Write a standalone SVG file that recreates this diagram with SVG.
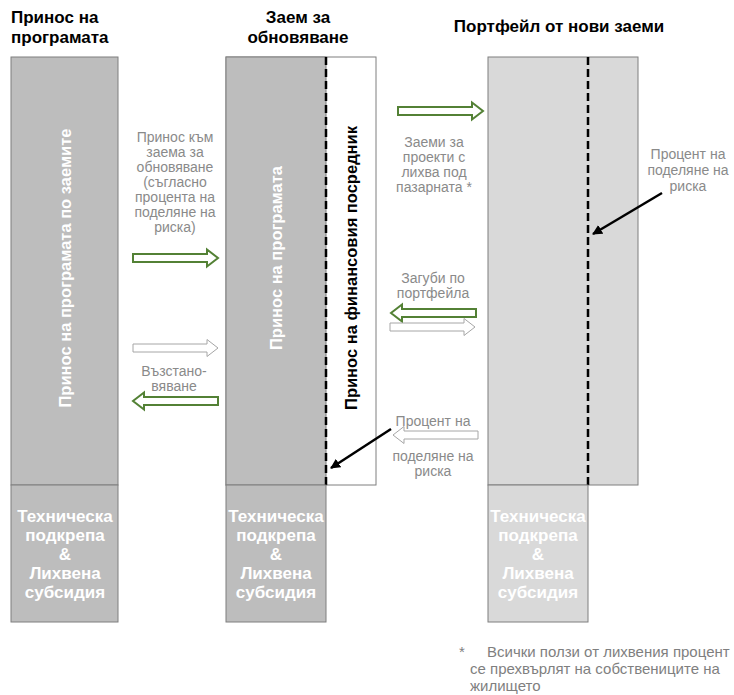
<svg xmlns="http://www.w3.org/2000/svg" xmlns:xlink="http://www.w3.org/1999/xlink" width="734" height="695" viewBox="0 0 734 695">
<style>
.hdr{font-family:"Liberation Sans",Arial,sans-serif;font-weight:bold;font-size:17px;fill:#000}
.lbl{font-family:"Liberation Sans",Arial,sans-serif;font-size:14px;fill:#8a8a8a;text-anchor:middle}
.vt{font-family:"Liberation Sans",Arial,sans-serif;font-weight:bold;font-size:16.5px;text-anchor:middle}
.bt{font-family:"Liberation Sans",Arial,sans-serif;font-weight:bold;font-size:17px;fill:#fff;text-anchor:middle}
.fn{font-family:"Liberation Sans",Arial,sans-serif;font-size:15px;fill:#7f7f7f}
.dark{fill:#bdbdbd;stroke:#7f7f7f;stroke-width:1}
.light{fill:#d9d9d9;stroke:#7f7f7f;stroke-width:1}
.wbox{fill:#fff;stroke:#7f7f7f;stroke-width:1}
.dash{stroke:#000;stroke-width:2.5;stroke-dasharray:8 4;fill:none}
.ga{fill:#fff;stroke:#538135;stroke-width:2}
.gr{fill:#fff;stroke:#a6a6a6;stroke-width:1}
.bl{stroke:#000;stroke-width:2.5;fill:none}
</style>
<defs>
<path id="ar" d="M0,-4 H74 V-8.5 L85,0 L74,8.5 V4 H0 Z"/>
<marker id="ah" viewBox="0 0 10 10" refX="9" refY="5" markerWidth="4" markerHeight="4" orient="auto" markerUnits="strokeWidth">
<path d="M0,0 L10,5 L0,10 Z" fill="#000"/>
</marker>
</defs>

<g id="headers">
<text class="hdr" x="11" y="23">Принос на</text>
<text class="hdr" x="11" y="43">програмата</text>
<text class="hdr" x="298" y="23" text-anchor="middle">Заем за</text>
<text class="hdr" x="298" y="43" text-anchor="middle">обновяване</text>
<text class="hdr" x="559" y="32" text-anchor="middle">Портфейл от нови заеми</text>
</g>

<g id="col-program">
<rect class="dark" x="11" y="57" width="107" height="428"/>
<text class="vt" fill="#fff" transform="translate(71,268) rotate(-90)">Принос на програмата по заемите</text>
</g>
<g id="col-program-bottom">
<rect class="dark" x="11" y="485" width="107" height="137"/>
<text class="bt" x="65" y="522">Техническа</text>
<text class="bt" x="65" y="541">подкрепа</text>
<text class="bt" x="65" y="560">&amp;</text>
<text class="bt" x="65" y="579">Лихвена</text>
<text class="bt" x="65" y="598">субсидия</text>
</g>

<g id="col-loan">
<rect class="wbox" x="226" y="57" width="150" height="428"/>
<rect class="dark" x="226" y="57" width="100" height="428"/>
<line class="dash" x1="326" y1="57" x2="326" y2="485"/>
<text class="vt" fill="#fff" transform="translate(282,258) rotate(-90)">Принос на програмата</text>
<text class="vt" fill="#000" transform="translate(357,268) rotate(-90)">Принос на финансовия посредник</text>
</g>
<g id="col-loan-bottom">
<rect class="dark" x="226" y="485" width="100" height="137"/>
<text class="bt" x="276" y="522">Техническа</text>
<text class="bt" x="276" y="541">подкрепа</text>
<text class="bt" x="276" y="560">&amp;</text>
<text class="bt" x="276" y="579">Лихвена</text>
<text class="bt" x="276" y="598">субсидия</text>
</g>

<g id="col-portfolio">
<rect class="light" x="488" y="57" width="150" height="428"/>
<line class="dash" x1="588" y1="57" x2="588" y2="485"/>
</g>
<g id="col-portfolio-bottom">
<rect class="light" x="488" y="485" width="100" height="137"/>
<text class="bt" x="538" y="522">Техническа</text>
<text class="bt" x="538" y="541">подкрепа</text>
<text class="bt" x="538" y="560">&amp;</text>
<text class="bt" x="538" y="579">Лихвена</text>
<text class="bt" x="538" y="598">субсидия</text>
</g>

<g id="labels">
<text class="lbl" x="175" y="142">Принос към</text>
<text class="lbl" x="175" y="157">заема за</text>
<text class="lbl" x="175" y="172">обновяване</text>
<text class="lbl" x="175" y="187">(съгласно</text>
<text class="lbl" x="175" y="202">процента на</text>
<text class="lbl" x="175" y="217">поделяне на</text>
<text class="lbl" x="175" y="232">риска)</text>
<text class="lbl" x="174" y="376">Възстано-</text>
<text class="lbl" x="174" y="391">вяване</text>
<text class="lbl" x="434" y="147">Заеми за</text>
<text class="lbl" x="434" y="162">проекти с</text>
<text class="lbl" x="434" y="177">лихва под</text>
<text class="lbl" x="434" y="192">пазарната *</text>
<text class="lbl" x="433" y="283">Загуби по</text>
<text class="lbl" x="433" y="298">портфейла</text>
<text class="lbl" x="433" y="426">Процент на</text>
<text class="lbl" x="433" y="461">поделяне на</text>
<text class="lbl" x="433" y="476">риска</text>
<text class="lbl" x="688" y="159">Процент на</text>
<text class="lbl" x="688" y="175">поделяне на</text>
<text class="lbl" x="688" y="191">риска</text>
</g>

<g id="connectors">
<use xlink:href="#ar" class="ga" transform="translate(133,258)"/>
<use xlink:href="#ar" class="gr" transform="translate(133,348)"/>
<use xlink:href="#ar" class="ga" transform="translate(218,401) scale(-1,1)"/>
<use xlink:href="#ar" class="ga" transform="translate(398,111)"/>
<use xlink:href="#ar" class="ga" transform="translate(476,313) scale(-1,1)"/>
<use xlink:href="#ar" class="gr" transform="translate(390,327)"/>
<use xlink:href="#ar" class="gr" transform="translate(478,435) scale(-1,1)"/>
<line class="bl" x1="391" y1="429" x2="331" y2="468" marker-end="url(#ah)"/>
<line class="bl" x1="662" y1="193" x2="593" y2="234" marker-end="url(#ah)"/>
</g>

<g id="footnote">
<text class="fn" x="459" y="657">*</text>
<text class="fn" x="487" y="657">Всички ползи от лихвения процент</text>
<text class="fn" x="470" y="674">се прехвърлят на собствениците на</text>
<text class="fn" x="470" y="691">жилището</text>
</g>
</svg>
